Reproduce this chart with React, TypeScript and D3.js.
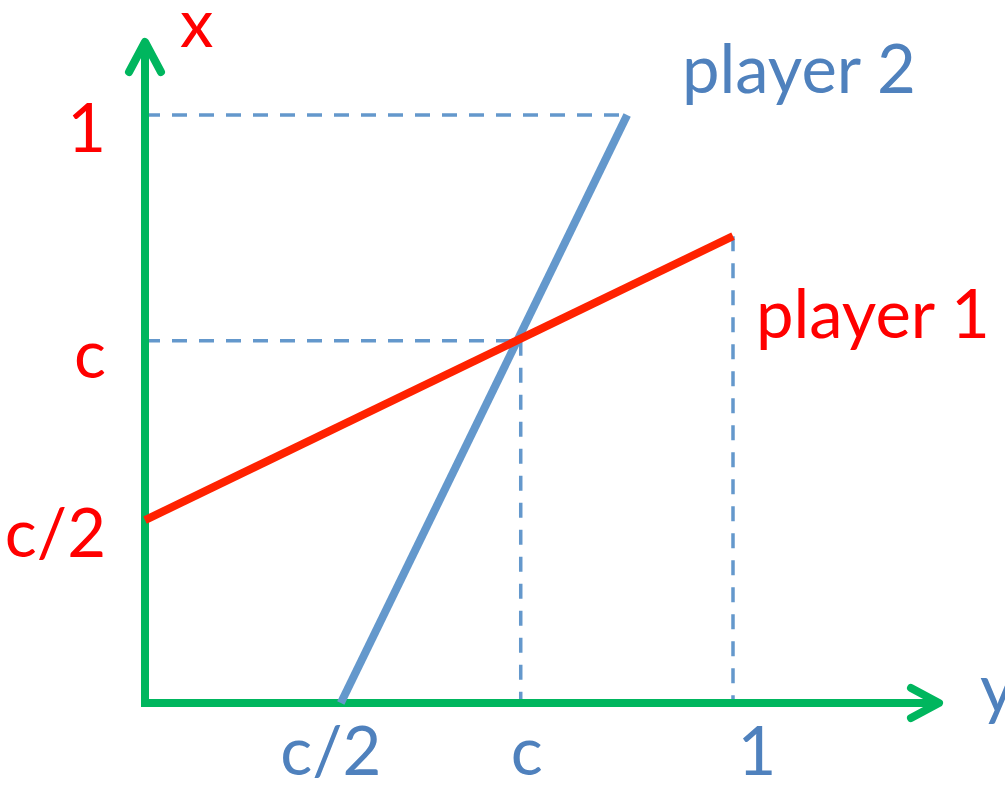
import React from "react";
import * as d3 from "d3";

// horizontal axis (labelled "y") tick values and labels
const hTickValues = [0.333, 0.639, 1];
const hTickLabels = ["c/2", "c", "1"];
// vertical axis (labelled "x") tick values and labels
const vTickValues = [0.311, 0.616, 1];
const vTickLabels = ["c/2", "c", "1"];

// best-response lines: [h, v]
const player1: [number, number][] = [[0, 0.311], [1, 0.794]];
const player2: [number, number][] = [[0.333, 0], [0.82, 1]];

// guide (dashed) segments
const guides: [number, number][][] = [
  [[0, 1], [0.82, 1]],
  [[0, 0.616], [0.639, 0.616]],
  [[0.639, 0.616], [0.639, 0]],
  [[1, 0.794], [1, 0]],
];

const W = 1005;
const H = 787;
const GREEN = "#00B65E";
const RED = "#FF0000";
const REDLINE = "#FF2200";
const BLUE = "#4F81BD";
const BLUELINE = "#6498CC";
const FONT = "Lato, 'Open Sans', sans-serif";
const FS = 67;

export default function App() {
  const x = d3.scaleLinear().domain([0, 1]).range([145, 733]);
  const y = d3.scaleLinear().domain([0, 1]).range([703, 115]);
  const line = d3
    .line<[number, number]>()
    .x((d) => x(d[0]))
    .y((d) => y(d[1]));

  const x0 = x(0);
  const y0 = y(0);

  return (
    <svg
      width={W}
      height={H}
      style={{ position: "absolute", left: 0, top: 0, background: "#fff" }}
    >
      {/* dashed guides */}
      {guides.map((g, i) => (
        <path
          key={i}
          d={line(g) || ""}
          fill="none"
          stroke={BLUELINE}
          strokeWidth={3.5}
          strokeDasharray="15 12"
        />
      ))}
      {/* axes */}
      <path d={`M${x0},${y0}L${x0},44`} stroke={GREEN} strokeWidth={8} fill="none" />
      <path d={`M${x0 - 4},${y0}L937,${y0}`} stroke={GREEN} strokeWidth={8} fill="none" />
      <path
        d={`M${x0 - 16},72L${x0},42L${x0 + 16},72`}
        stroke={GREEN}
        strokeWidth={8}
        fill="none"
        strokeLinecap="round"
        strokeLinejoin="round"
      />
      <path
        d={`M911,${y0 - 15}L939,${y0}L911,${y0 + 15}`}
        stroke={GREEN}
        strokeWidth={8}
        fill="none"
        strokeLinecap="round"
        strokeLinejoin="round"
      />
      {/* lines */}
      <path d={line(player2) || ""} stroke={BLUELINE} strokeWidth={8} fill="none" />
      <path d={line(player1) || ""} stroke={REDLINE} strokeWidth={8} fill="none" />

      {/* tick labels */}
      <g fontFamily={FONT} fontSize={FS}>
        {vTickValues.map((v, i) => (
          <text key={"v" + i} x={106} y={y(v) + 37} textAnchor="end" fill={RED}>
            {vTickLabels[i]}
          </text>
        ))}
        {hTickValues.map((v, i) => (
          <text
            key={"h" + i}
            x={x(v) + (i === 0 ? -10 : i === 1 ? 6 : 24)}
            y={775}
            textAnchor="middle"
            fill={BLUE}
          >
            {hTickLabels[i]}
          </text>
        ))}
        <text x={180} y={47} fill={RED}>x</text>
        <text x={980} y={712} fill={BLUE}>y</text>
        <text x={682} y={93} fill={BLUE}>player 2</text>
        <text x={756} y={338} fill={RED}>player 1</text>
      </g>
    </svg>
  );
}
